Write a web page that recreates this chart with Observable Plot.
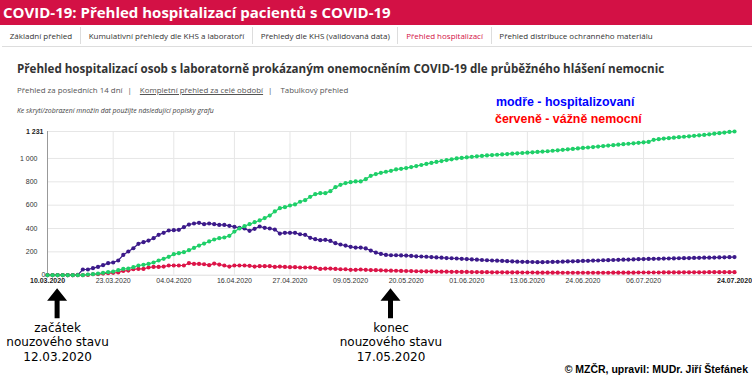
<!DOCTYPE html>
<html><head><meta charset="utf-8">
<script src="https://cdn.jsdelivr.net/npm/d3@7"></script>
<script src="https://cdn.jsdelivr.net/npm/@observablehq/plot@0.6"></script>
<style>
body{margin:0;width:752px;height:382px;overflow:hidden;background:#fff;position:relative;font-family:"Open Sans",sans-serif;color:#333}
#hdr{position:absolute;left:0;top:0;width:752px;height:25px;background:#d31145;color:#fff;font-weight:700;font-size:15px;line-height:25px;padding-left:3px;box-sizing:border-box;white-space:nowrap}
#tabs{position:absolute;left:2px;top:25px;width:750px;height:21px;border-bottom:1px solid #ddd;display:flex;font-size:8px;white-space:nowrap}
#tabs div{padding:0 7.7px;border-right:1px solid #ddd;margin:2px 0;line-height:17px}
#tabs div.act{color:#d31145}
#tabs div:last-child{border-right:none}
#title{position:absolute;left:17px;top:61px;font-size:11.6px;font-weight:700;white-space:nowrap;color:#333}
#links{position:absolute;left:17px;top:85px;font-size:7.9px;white-space:nowrap;color:#555}
#links u{text-decoration:underline}
#links span.sep{padding:0 8px 0 5px}
#note{position:absolute;left:17px;top:106px;font-size:6.9px;font-style:italic;white-space:nowrap;color:#444}
.leg{position:absolute;font-family:"Liberation Sans",sans-serif;font-weight:700;font-size:12.4px;white-space:nowrap}
#copy{position:absolute;right:4px;top:363px;font-family:"Liberation Sans",sans-serif;font-weight:700;font-size:10.5px;white-space:nowrap;color:#000}
#chart{position:absolute;left:0;top:118px}
</style></head>
<body>
<div id="hdr"></div>
<div id="tabs"></div>
<div id="title"></div>
<div id="links"></div>
<div id="note"></div>
<div id="leg1" class="leg" style="left:496px;top:95px;color:#0000ff"></div>
<div id="leg2" class="leg" style="left:495px;top:112px;color:#ff0000"></div>
<div id="copy"></div>
<div id="chart"></div>
<script>
// ---- texts ----
const nadpis = "COVID-19: Přehled hospitalizací pacientů s COVID-19";
const zalozky = ["Základní přehled", "Kumulativní přehledy dle KHS a laboratoří", "Přehledy dle KHS (validovaná data)", "Přehled hospitalizací", "Přehled distribuce ochranného materiálu"];
const aktivniZalozka = "Přehled hospitalizací";
const titulekGrafu = "Přehled hospitalizací osob s laboratorně prokázaným onemocněním COVID-19 dle průběžného hlášení nemocnic";
const odkazy = ["Přehled za posledních 14 dní", "Kompletní přehled za celé období", "Tabulkový přehled"];
const poznamka = "Ke skrytí/zobrazení množin dat použijte následující popisky grafu";
const legenda = ["modře - hospitalizovaní", "červeně - vážně nemocní"];
const autor = "© MZČR, upravil: MUDr. Jiří Štefánek";

// ---- axis ----
const prvniDen = "10.03.2020";
const popiskyX = ["10.03.2020","23.03.2020","04.04.2020","16.04.2020","27.04.2020","09.05.2020","20.05.2020","01.06.2020","13.06.2020","24.06.2020","06.07.2020","24.07.2020"];
const popiskyY = [0, 200, 400, 600, 800, 1000];
const maxY = 1231;

// ---- series (daily values from 10.03.2020) ----
const hospitalizovani = [
0,0,0,0,0,0,3,49,49,60,71,86,103,109,126,174,203,231,269,283,
297,317,346,363,383,386,389,411,434,443,449,437,443,437,431,431,423,414,406,400,
380,397,417,406,400,391,357,363,363,363,351,346,320,309,300,303,294,274,263,254,
243,237,237,229,211,194,183,174,171,171,169,
168,165,162,160,158,155,152,150,147,145,
143,140,138,135,133,130,128,126,124,122,
120,118,116,115,114,113,112,112,113,114,
115,116,118,119,120,122,123,125,126,128,
129,130,132,133,134,135,137,138,139,140,
141,142,143,144,145,146,147,148,149,150,
150,151,152,153,154,155];
const vazneNemocni = [
0,0,0,0,0,0,0,0,2,8,8,14,17,20,23,37,40,51,54,54,
66,71,71,74,83,83,83,83,103,97,97,94,86,100,91,83,74,83,83,83,
80,74,77,77,77,71,74,71,69,69,66,66,66,63,54,57,57,54,51,51,
46,46,49,46,44,43,42,40,39,38,37,
36,35,34,33,32,32,31,30,30,29,
29,28,28,27,27,26,26,25,25,25,
24,24,24,23,23,23,22,22,22,22,
22,21,21,21,21,21,21,21,21,21,
21,22,22,22,22,22,23,23,23,23,
23,24,24,24,24,25,25,25,25,25,
26,26,26,26,26,26];
const zelena = [
0,0,0,0,0,0,0,0,6,9,14,20,26,31,43,54,57,69,83,89,
97,109,126,140,157,180,189,197,214,234,254,271,289,306,317,323,337,374,400,420,
437,454,469,489,511,546,574,583,597,606,629,643,671,694,703,703,720,754,774,789,
797,803,803,823,851,866,877,886,894,906,911,
918,926,935,944,953,962,970,978,986,993,
1000,1005,1010,1014,1018,1022,1026,1029,1032,1035,
1038,1041,1044,1047,1050,1053,1056,1059,1062,1066,
1070,1074,1078,1082,1086,1090,1094,1098,1102,1106,
1110,1114,1118,1122,1126,1130,1134,1138,1142,1160,
1165,1170,1174,1178,1182,1186,1190,1194,1198,1202,
1207,1212,1217,1222,1227,1231];

// ---- annotations ----
const udalosti = [
  {datum: "12.03.2020", text: "začátek\nnouzového stavu\n12.03.2020"},
  {datum: "17.05.2020", text: "konec\nnouzového stavu\n17.05.2020"}
];

// ---- build ----
const parse = d3.utcParse("%d.%m.%Y");
const fmtD = d3.utcFormat("%d.%m.%Y");
const start = parse(prvniDen);
const den = i => d3.utcDay.offset(start, i);
const rady = [
  {name: "hospitalizovaní", values: hospitalizovani, color: "#3c1a8a"},
  {name: "vážně nemocní", values: vazneNemocni, color: "#dc1448"},
  {name: "zelená", values: zelena, color: "#1ecf68"}
];
const tabulka = rady.flatMap(r => r.values.map((v, i) => ({datum: den(i), hodnota: v, rada: r.name})));
const tickDates = popiskyX.map(parse);
const innerTicks = tickDates.slice(1, -1);
const endTicks = [tickDates[0], tickDates[tickDates.length - 1]];
const fmtN = d3.formatLocale({decimal: ",", thousands: " ", grouping: [3], currency: ["", ""]}).format(",");
const ann = udalosti.map(u => ({datum: parse(u.datum), text: u.text}));

document.getElementById("hdr").textContent = nadpis;
const tabs = document.getElementById("tabs");
zalozky.forEach(t => { const d = document.createElement("div"); d.textContent = t; if (t === aktivniZalozka) d.className = "act"; tabs.appendChild(d); });
document.getElementById("title").textContent = titulekGrafu;
document.getElementById("links").innerHTML = `${odkazy[0]}<span class="sep">|</span><u>${odkazy[1]}</u><span class="sep">|</span>${odkazy[2]}`;
document.getElementById("note").textContent = poznamka;
document.getElementById("leg1").textContent = legenda[0];
document.getElementById("leg2").textContent = legenda[1];
document.getElementById("copy").textContent = autor;

function sipky(index, scales, values, dimensions) {
  const g = d3.create("svg:g");
  const yb = dimensions.height - dimensions.marginBottom;
  for (const u of ann) {
    const x = scales.x(u.datum);
    g.append("path")
      .attr("d", `M${x},${yb+13.5}L${x+10},${yb+26}L${x+2.5},${yb+26}L${x+2.5},${yb+43.5}L${x-2.5},${yb+43.5}L${x-2.5},${yb+26}L${x-10},${yb+26}Z`)
      .attr("fill", "#000");
  }
  return g.node();
}

const chart = Plot.plot({
  width: 752, height: 264,
  marginLeft: 47, marginRight: 18, marginTop: 13, marginBottom: 107.3,
  x: {type: "utc", domain: [start, tickDates[tickDates.length - 1]]},
  y: {domain: [0, maxY]},
  style: {fontFamily: "'Liberation Sans', Arial, sans-serif", color: "#333", background: "transparent"},
  marks: [
    Plot.gridX(innerTicks, {stroke: "#e6e6e6", strokeOpacity: 1}),
    Plot.gridY([...popiskyY.slice(1), maxY], {stroke: "#e6e6e6", strokeOpacity: 1}),
    Plot.ruleY([0], {stroke: "#ddd"}),
    Plot.ruleX([start], {stroke: "#999"}),
    Plot.axisX(innerTicks, {tickSize: 0, tickPadding: 3, tickFormat: fmtD, fontSize: 7, label: null}),
    Plot.axisX(endTicks, {tickSize: 0, tickPadding: 3, tickFormat: fmtD, fontSize: 7, fontWeight: "bold", fill: "#222", label: null}),
    Plot.axisY(popiskyY.slice(1), {tickSize: 0, tickPadding: 10, tickFormat: fmtN, fontSize: 7, label: null}),
    Plot.axisY([0], {tickSize: 0, tickPadding: 2, tickFormat: fmtN, fontSize: 7, label: null}),
    Plot.axisY([maxY], {tickSize: 0, tickPadding: 4, tickFormat: fmtN, fontSize: 7, fontWeight: "bold", fill: "#222", label: null}),
    ...rady.flatMap(r => [
      Plot.line(tabulka.filter(d => d.rada === r.name), {x: "datum", y: "hodnota", stroke: r.color, strokeWidth: 1.2}),
      Plot.dot(tabulka.filter(d => d.rada === r.name), {x: "datum", y: "hodnota", fill: r.color, r: 2.1})
    ]),
    sipky,
    Plot.text(ann, {x: "datum", frameAnchor: "bottom", dy: 46.5, lineAnchor: "top", text: "text", fontSize: 12, lineHeight: 1.2, fill: "#000", fontFamily: "'DejaVu Sans', sans-serif"})
  ]
});
document.getElementById("chart").appendChild(chart);
</script>
</body></html>
